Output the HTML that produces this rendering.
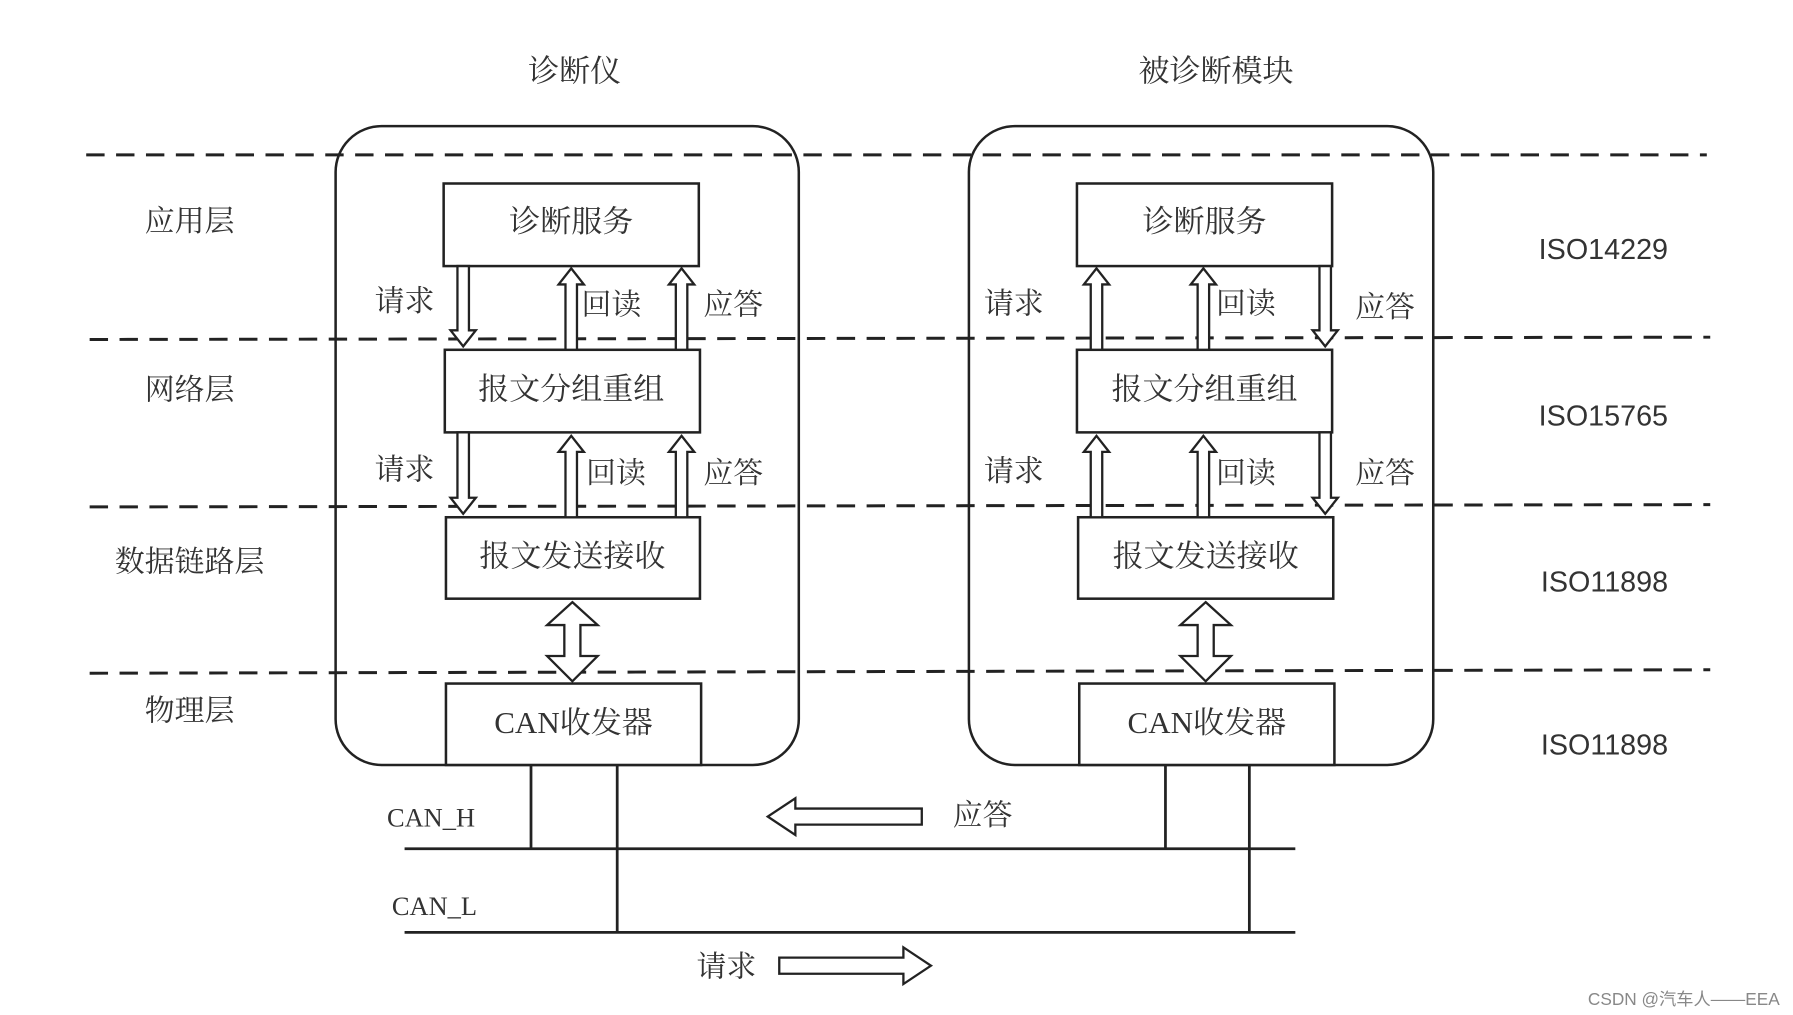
<!DOCTYPE html>
<html><head><meta charset="utf-8"><style>
html,body{margin:0;padding:0;background:#fff;}
svg{display:block}
text{font-family:"Liberation Serif","Noto Serif CJK SC",serif;fill:#333;}
.s{font-family:"Liberation Sans","Noto Sans CJK SC",sans-serif;}
</style></head><body>
<svg width="1793" height="1015" viewBox="0 0 1560 885" preserveAspectRatio="none" xmlns="http://www.w3.org/2000/svg">
<defs>
<path id="dn" d="M-5,0 V-56 H-11 L0,-70 L11,-56 H5 V0 Z" transform="scale(1,-1)"/>
</defs>
<g fill="none" stroke="#222" stroke-width="2.2">
<!-- dashed lines -->
<g stroke-dasharray="16,10" stroke-width="2.6">
<line x1="75" y1="135" x2="1485" y2="135"/>
<line x1="78" y1="296" x2="1488" y2="294"/>
<line x1="78" y1="442" x2="1488" y2="440"/>
<line x1="78" y1="587" x2="1488" y2="584"/>
</g>
<rect x="292" y="110" width="403" height="557" rx="40"/>
<rect x="843" y="110" width="404" height="557" rx="40"/>
<!-- boxes -->
<rect x="386" y="160" width="222" height="72" fill="#fff"/>
<rect x="387" y="305" width="222" height="72" fill="#fff"/>
<rect x="388" y="451" width="221" height="71" fill="#fff"/>
<rect x="388" y="596" width="222" height="71" fill="#fff"/>
<rect x="937" y="160" width="222" height="72" fill="#fff"/>
<rect x="937" y="305" width="222" height="72" fill="#fff"/>
<rect x="938" y="451" width="222" height="71" fill="#fff"/>
<rect x="939" y="596" width="222" height="71" fill="#fff"/>
</g>
<g fill="#fff" stroke="#222" stroke-width="2">
<!-- left upper -->
<path d="M398,232 V288 H392 L403,302 L414,288 H408 V232 Z"/>
<path d="M492,305 V248 H486 L497,234 L508,248 H502 V305 Z"/>
<path d="M588,305 V248 H582 L593,234 L604,248 H598 V305 Z"/>
<!-- left lower -->
<path d="M398,377 V434 H392 L403,448 L414,434 H408 V377 Z"/>
<path d="M492,451 V394 H486 L497,380 L508,394 H502 V451 Z"/>
<path d="M588,451 V394 H582 L593,380 L604,394 H598 V451 Z"/>
<!-- right upper -->
<path d="M949,305 V248 H943 L954,234 L965,248 H959 V305 Z"/>
<path d="M1042,305 V248 H1036 L1047,234 L1058,248 H1052 V305 Z"/>
<path d="M1148,232 V288 H1142 L1153,302 L1164,288 H1158 V232 Z"/>
<!-- right lower -->
<path d="M949,451 V394 H943 L954,380 L965,394 H959 V451 Z"/>
<path d="M1042,451 V394 H1036 L1047,380 L1058,394 H1052 V451 Z"/>
<path d="M1148,377 V434 H1142 L1153,448 L1164,434 H1158 V377 Z"/>
<!-- double arrows -->
<path d="M498,525 L520,545 H505 V572 H520 L498,594 L476,572 H491 V545 H476 Z"/>
<path d="M1049,525 L1071,545 H1056 V572 H1071 L1049,594 L1027,572 H1042 V545 H1027 Z"/>
<!-- bus arrows -->
<path d="M668,712 L692,696 V705 H802 V719 H692 V728 Z"/>
<path d="M810,842 L786,826 V835 H678 V849 H786 V858 Z"/>
</g>
<g stroke="#222" stroke-width="2.4">
<line x1="352" y1="740" x2="1127" y2="740"/>
<line x1="352" y1="813" x2="1127" y2="813"/>
<line x1="462" y1="667" x2="462" y2="740"/>
<line x1="537" y1="667" x2="537" y2="813"/>
<line x1="1014" y1="667" x2="1014" y2="740"/>
<line x1="1087" y1="667" x2="1087" y2="813"/>
</g>
<g font-size="27" text-anchor="middle" dominant-baseline="central">
<text x="500" y="62">诊断仪</text>
<text x="1058" y="62">被诊断模块</text>
<text x="165" y="193" font-size="26">应用层</text>
<text x="165" y="340" font-size="26">网络层</text>
<text x="165" y="490" font-size="26">数据链路层</text>
<text x="165" y="620" font-size="26">物理层</text>
<text x="497" y="193">诊断服务</text>
<text x="497" y="339">报文分组重组</text>
<text x="498" y="485">报文发送接收</text>
<text x="499" y="630">CAN收发器</text>
<text x="1048" y="193">诊断服务</text>
<text x="1048" y="339">报文分组重组</text>
<text x="1049" y="485">报文发送接收</text>
<text x="1050" y="630">CAN收发器</text>
<text x="352" y="263" font-size="26">请求</text>
<text x="532" y="266" font-size="26">回读</text>
<text x="638" y="266" font-size="26">应答</text>
<text x="352" y="410" font-size="26">请求</text>
<text x="536" y="413" font-size="26">回读</text>
<text x="638" y="413" font-size="26">应答</text>
<text x="882" y="265" font-size="26">请求</text>
<text x="1084" y="265" font-size="26">回读</text>
<text x="1205" y="268" font-size="26">应答</text>
<text x="882" y="411" font-size="26">请求</text>
<text x="1084" y="413" font-size="26">回读</text>
<text x="1205" y="413" font-size="26">应答</text>
<text x="855" y="711" font-size="26">应答</text>
<text x="632" y="843" font-size="26">请求</text>
<text x="375" y="713" font-size="23">CAN_H</text>
<text x="378" y="790" font-size="23">CAN_L</text>
</g>
<g class="s" font-size="25" text-anchor="middle" dominant-baseline="central">
<text class="s" x="1395" y="218">ISO14229</text>
<text class="s" x="1395" y="363">ISO15765</text>
<text class="s" x="1396" y="508">ISO11898</text>
<text class="s" x="1396" y="650">ISO11898</text>
</g>
<text class="s" x="1465" y="871" font-size="15" text-anchor="middle" dominant-baseline="central" style="fill:#888">CSDN @汽车人——EEA</text>
</svg>
</body></html>
